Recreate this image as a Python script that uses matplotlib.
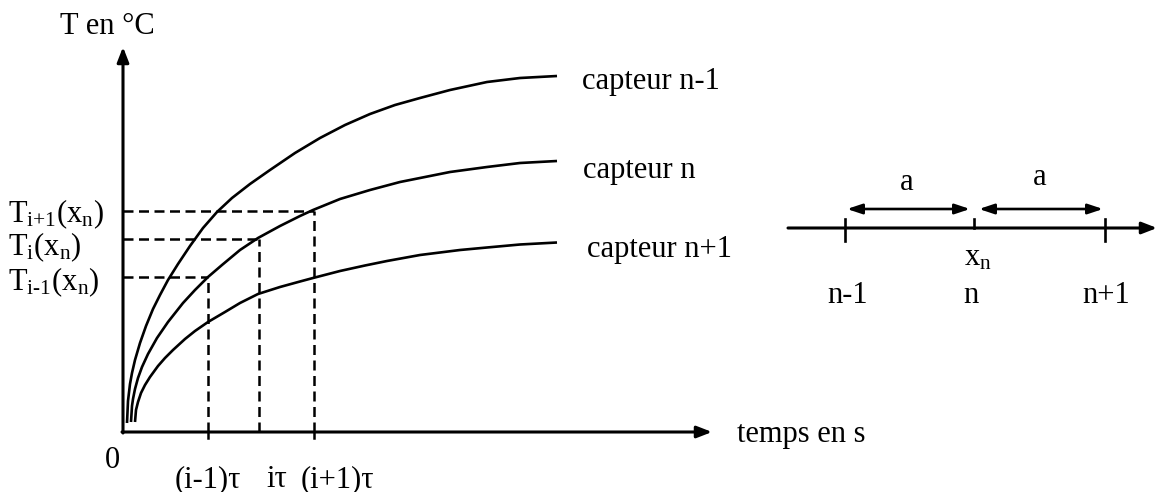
import matplotlib
matplotlib.use("Agg")
import matplotlib.pyplot as plt

plt.rcParams['font.family'] = ['Liberation Serif', 'DejaVu Serif']
plt.rcParams['mathtext.fontset'] = 'custom'
plt.rcParams['mathtext.rm'] = 'Liberation Serif'
plt.rcParams['mathtext.it'] = 'Liberation Serif'

# Curves (pixel coordinates, y downward)
n_minus_x = [127, 128, 130, 132, 135, 140, 146, 153, 160, 168, 178, 190, 203, 217,
             232, 250, 270, 295, 320, 345, 370, 395, 420, 450, 487, 520, 557]
n_minus_y = [423, 401, 384, 373, 360, 343, 326, 309, 295, 280, 264, 246, 228, 212,
             198, 184, 170, 153, 138, 125, 114, 105, 98, 90, 82, 78, 76]
n_x = [131, 132, 133, 135, 138, 142, 148, 157, 168, 183, 195, 208, 222, 240, 258,
       280, 300, 313, 340, 370, 400, 420, 450, 487, 520, 557]
n_y = [422, 406, 399, 389, 378, 367, 354, 338, 322, 303, 290, 277, 265, 250, 238,
       226, 216, 210, 199, 190, 182, 178, 172, 167, 163, 161]
n_plus_x = [135, 136, 138, 141, 145, 150, 158, 165, 173, 185, 195, 208, 225, 240, 258,
            280, 300, 313, 340, 365, 387, 420, 460, 487, 520, 557]
n_plus_y = [422, 410, 402, 393, 385, 377, 366, 358, 350, 339, 331, 322, 312, 303, 294,
            287, 281.5, 278, 271, 265.5, 261, 255, 250, 247.5, 244.5, 242.5]

# Reading lines
tau_x = [208, 259, 314]
T_y = [277, 239, 211]
T_labels = [r'T$_{\text{i-1}}$(x$_{\text{n}}$)', r'T$_{\text{i}}$(x$_{\text{n}}$)',
            r'T$_{\text{i+1}}$(x$_{\text{n}}$)']
tau_labels = ['(i-1)τ', 'iτ', '(i+1)τ']
curve_labels = ['capteur n-1', 'capteur n', 'capteur n+1']
node_labels = ['n-1', 'n', 'n+1']
node_x = [845, 974, 1105]

fig = plt.figure(figsize=(11.57, 4.92), dpi=100)
ax = fig.add_axes([0, 0, 1, 1])
ax.set_xlim(0, 1157)
ax.set_ylim(492, 0)
ax.axis('off')

FS = 22
ax0x, ax0y = 123, 432
DASH = (0, (4, 2.2))

# Axes with arrows
arr = dict(arrowstyle='-|>,head_length=0.9,head_width=0.35', lw=2.2, color='k',
           shrinkA=0, shrinkB=0)
ax.annotate('', xy=(ax0x, 47), xytext=(ax0x, ax0y + 1), arrowprops=arr)
ax.annotate('', xy=(712, ax0y), xytext=(ax0x - 1, ax0y), arrowprops=arr)

# Curves
for xs, ys in [(n_minus_x, n_minus_y), (n_x, n_y), (n_plus_x, n_plus_y)]:
    ax.plot(xs, ys, color='k', lw=1.9, solid_capstyle='butt', solid_joinstyle='round')

# Dashed reading lines
for tx, ty in zip(tau_x, T_y):
    ax.plot([ax0x, tx], [ty, ty], color='k', lw=1.8, ls=DASH)
    ax.plot([tx, tx], [ax0y, ty], color='k', lw=1.8, ls=DASH)
for tx in (tau_x[0], tau_x[2]):
    ax.plot([tx, tx], [ax0y, 438], color='k', lw=1.8)

# Text
ax.text(60, 34, 'T en °C', fontsize=FS, ha='left', va='baseline')
ax.text(737, 442, 'temps en s', fontsize=FS, ha='left', va='baseline')
ax.text(105, 468, '0', fontsize=FS, ha='left', va='baseline')
for lx, lab in zip([175, 266, 301], tau_labels):
    ax.text(lx, 487, lab, fontsize=FS, ha='left', va='baseline')
for by, lab in zip([290, 255, 222], T_labels):
    ax.text(8, by, lab, fontsize=FS, ha='left', va='baseline')
for lx, by, lab in zip([582, 583, 587], [89, 178, 257], curve_labels):
    ax.text(lx, by, lab, fontsize=FS, ha='left', va='baseline')

# Right-hand diagram: sensor positions
ax.annotate('', xy=(1157, 228), xytext=(788, 228), arrowprops=arr)
ax.plot([node_x[0], node_x[0]], [219, 241], color='k', lw=1.9)
ax.plot([node_x[1], node_x[1]], [219, 228], color='k', lw=1.9)
ax.plot([node_x[2], node_x[2]], [219, 241], color='k', lw=1.9)
darr = dict(arrowstyle='<|-|>,head_length=0.9,head_width=0.3', lw=1.9, color='k',
            shrinkA=0, shrinkB=0)
ax.annotate('', xy=(970, 209), xytext=(847, 209), arrowprops=darr)
ax.annotate('', xy=(1103, 209), xytext=(979, 209), arrowprops=darr)
ax.text(907, 190, 'a', fontsize=FS, ha='center', va='baseline')
ax.text(1040, 185, 'a', fontsize=FS, ha='center', va='baseline')
ax.text(964, 265, r'x$_{\text{n}}$', fontsize=FS, ha='left', va='baseline')
for nx, lab in zip([848, 971, 1106], node_labels):
    ax.text(nx, 303, lab, fontsize=FS, ha='center', va='baseline')

fig.savefig('out.png', dpi=100)
